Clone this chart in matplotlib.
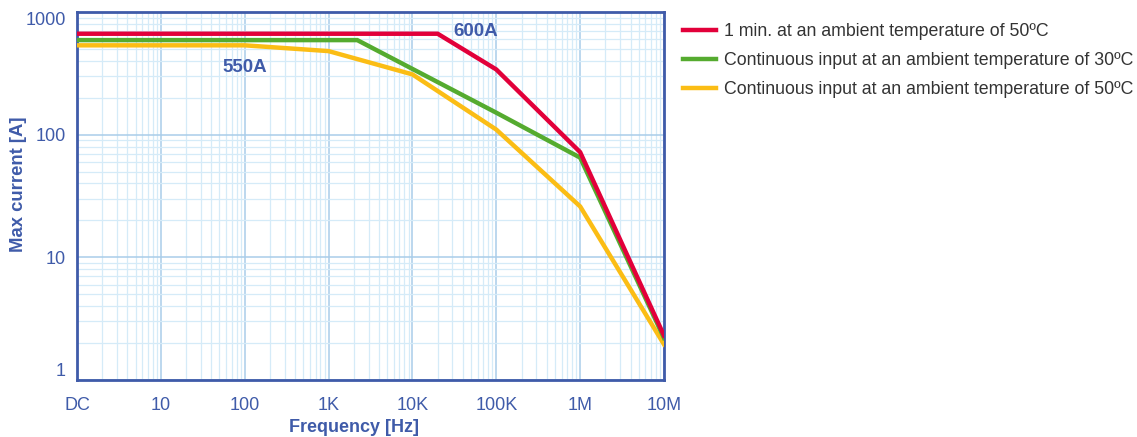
import matplotlib
matplotlib.use("Agg")
import matplotlib.pyplot as plt
from matplotlib.ticker import FixedLocator, LogLocator, NullFormatter

plt.rcParams['font.family'] = ['Liberation Sans', 'DejaVu Sans']

# data (frequency in Hz, DC plotted at 1)
freq_red = [1, 20e3, 100e3, 1e6, 10e6]
cur_red = [665, 665, 340, 72, 2.3]
freq_green = [1, 2.2e3, 100e3, 1e6, 10e6]
cur_green = [590, 590, 151, 65, 2.2]
freq_yellow = [1, 100, 1e3, 10e3, 100e3, 1e6, 10e6]
cur_yellow = [535, 535, 480, 310, 110, 26, 1.95]

labels = ["1 min. at an ambient temperature of 50ºC",
          "Continuous input at an ambient temperature of 30ºC",
          "Continuous input at an ambient temperature of 50ºC"]
colors = ["#e2003a", "#55ab2f", "#fbbd15"]

x_ticks = [1, 10, 100, 1e3, 1e4, 1e5, 1e6, 1e7]
x_ticklabels = ["DC", "10", "100", "1K", "10K", "100K", "1M", "10M"]
y_ticks = [1, 10, 100, 1000]
y_ticklabels = ["1", "10", "100", "1000"]

blue = "#3f5ba9"

fig = plt.figure(figsize=(11.37, 4.37), dpi=100)
ax = fig.add_axes([77/1137, 1-380/437, (664-77)/1137, (380-12)/437])

ax.plot(freq_red, cur_red, color=colors[0], lw=3.2, label=labels[0], zorder=5, solid_joinstyle='miter')
ax.plot(freq_green, cur_green, color=colors[1], lw=3.2, label=labels[1], zorder=4, solid_joinstyle='miter')
ax.plot(freq_yellow, cur_yellow, color=colors[2], lw=3.2, label=labels[2], zorder=3, solid_joinstyle='miter')

ax.set_xscale('log')
ax.set_yscale('log')
ax.set_xlim(1, 1e7)
ax.set_ylim(1, 1000)

ax.xaxis.set_major_locator(FixedLocator(x_ticks))
ax.set_xticklabels(x_ticklabels)
ax.yaxis.set_major_locator(FixedLocator(y_ticks))
ax.set_yticklabels(y_ticklabels)
ax.xaxis.set_minor_locator(LogLocator(base=10, subs=range(2, 10), numticks=20))
ax.yaxis.set_minor_locator(LogLocator(base=10, subs=range(2, 10), numticks=20))
ax.xaxis.set_minor_formatter(NullFormatter())
ax.yaxis.set_minor_formatter(NullFormatter())

yl = ax.get_yticklabels()
yl[0].set_va('bottom')
yl[-1].set_va('top')

ax.tick_params(which='both', length=0)
ax.tick_params(axis='x', pad=12, labelsize=13, labelcolor=blue)
ax.tick_params(axis='y', pad=8, labelsize=13, labelcolor=blue)

ax.grid(which='major', color='#a9cde9', lw=1.1, zorder=0)
ax.grid(which='minor', color='#d5ebf8', lw=0.9, zorder=0)
ax.set_axisbelow(True)

for s in ax.spines.values():
    s.set_color(blue)
    s.set_linewidth(2)

ax.set_xlabel("Frequency [Hz]", fontsize=13, fontweight='bold', color=blue)
ax.set_ylabel("Max current [A]", fontsize=13.3, fontweight='bold', color=blue)
ax.xaxis.set_label_coords((354 - 77) / 587, (380 - 428) / 368)
ax.yaxis.set_label_coords((18 - 77) / 587, (380 - 184) / 368)
ax.xaxis.label.set_va('center')
ax.yaxis.label.set_va('center')

ax.text(5.7e4, 693, "600A", fontsize=13.5, fontweight='bold', color=blue, ha='center', va='center')
ax.text(100, 352, "550A", fontsize=13.5, fontweight='bold', color=blue, ha='center', va='center')

fig.legend(loc='upper left', bbox_to_anchor=(676/1137, 1-16/437), frameon=False,
           fontsize=12.8, handlelength=1.85, handletextpad=0.45, labelspacing=0.68,
           labelcolor='#333333', borderaxespad=0)

fig.savefig("out.png", dpi=100)
